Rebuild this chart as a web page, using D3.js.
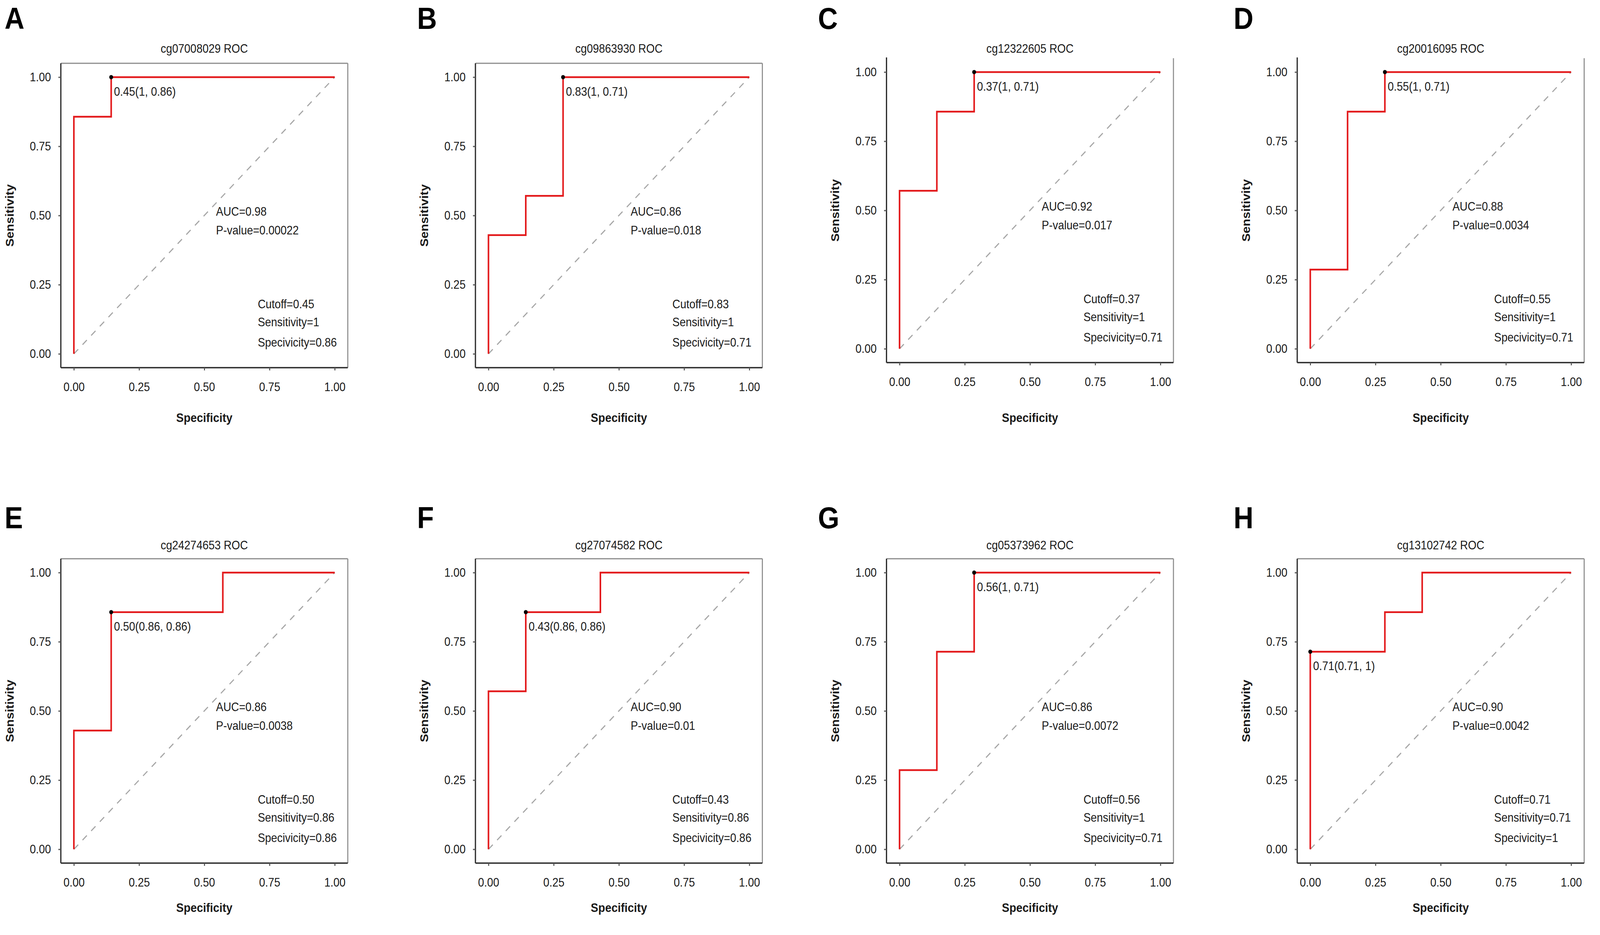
<!DOCTYPE html>
<html>
<head>
<meta charset="utf-8">
<script src="https://cdn.jsdelivr.net/npm/d3@7"></script>
<style>
  html, body { margin: 0; padding: 0; background: #fff; overflow: hidden; }
  svg { display: block; width: 100vw; height: 100vh; }
  text { font-family: 'Liberation Sans', Arial, Helvetica, sans-serif; fill: #1a1a1a; }
</style>
</head>
<body>
<svg id="chart"></svg>
<script>
const letters = ['A', 'B', 'C', 'D', 'E', 'F', 'G', 'H']
const probes = ['cg07008029', 'cg09863930', 'cg12322605', 'cg20016095',
  'cg24274653', 'cg27074582', 'cg05373962', 'cg13102742']

// ROC step curves (x = 1 - specificity on the axis labelled Specificity)
const rocX = [
  [0, 0, 0.143, 0.143, 1],
  [0, 0, 0.143, 0.143, 0.286, 0.286, 1],
  [0, 0, 0.143, 0.143, 0.286, 0.286, 1],
  [0, 0, 0.143, 0.143, 0.286, 0.286, 1],
  [0, 0, 0.143, 0.143, 0.571, 0.571, 1],
  [0, 0, 0.143, 0.143, 0.429, 0.429, 1],
  [0, 0, 0.143, 0.143, 0.286, 0.286, 1],
  [0, 0, 0.286, 0.286, 0.429, 0.429, 1]
]
const rocY = [
  [0, 0.857, 0.857, 1, 1],
  [0, 0.429, 0.429, 0.571, 0.571, 1, 1],
  [0, 0.571, 0.571, 0.857, 0.857, 1, 1],
  [0, 0.286, 0.286, 0.857, 0.857, 1, 1],
  [0, 0.429, 0.429, 0.857, 0.857, 1, 1],
  [0, 0.571, 0.571, 0.857, 0.857, 1, 1],
  [0, 0.286, 0.286, 0.714, 0.714, 1, 1],
  [0, 0.714, 0.714, 0.857, 0.857, 1, 1]
]

// best threshold point
const bestX = [0.143, 0.286, 0.286, 0.286, 0.143, 0.143, 0.286, 0]
const bestY = [1, 1, 1, 1, 0.857, 0.857, 1, 0.714]

const cutoffs = ['0.45', '0.83', '0.37', '0.55', '0.50', '0.43', '0.56', '0.71']
const sens = ['1', '1', '1', '1', '0.86', '0.86', '1', '0.71']
const spec = ['0.86', '0.71', '0.71', '0.71', '0.86', '0.86', '0.71', '1']
const aucs = ['0.98', '0.86', '0.92', '0.88', '0.86', '0.90', '0.86', '0.90']
const pvalues = ['0.00022', '0.018', '0.017', '0.0034', '0.0038', '0.01', '0.0072', '0.0042']

const ticks = [0, 0.25, 0.5, 0.75, 1]

// layout (drawn in reference pixels, stretched to the viewport)
const W = 4550
const H = 2393
const colLeft = [173, 1352, 2521, 3689]
const rowTop = [162, 1430]
const letterX = [13, 1186, 2326, 3508]
const letterY = [74, 1352]
const titleY = [124, 1395]
const xTitleY = [1068, 2322]
const boxW = 816
const boxH = 779
const fs = 31
const red = '#e31a1c'

const svg = d3.select('#chart')
  .attr('viewBox', `0 0 ${W} ${H}`)
  .attr('preserveAspectRatio', 'none')

svg.append('rect').attr('width', W).attr('height', H).attr('fill', '#fff')

const fmt = d3.format('.2f')

letters.forEach((letter, i) => {
  const col = i % 4
  const row = Math.floor(i / 4)
  // C and D in the top row sit a little higher and have no top frame
  const shift = (row === 0 && col >= 2) ? -13 : 0
  const left = colLeft[col]
  const top = rowTop[row] + shift
  const showTop = !(row === 0 && col >= 2)

  const x = d3.scaleLinear().domain([-0.05, 1.05]).range([left, left + boxW])
  const y = d3.scaleLinear().domain([-0.05, 1.05]).range([top + boxH, top])

  const g = svg.append('g').classed('panel', true)

  // panel letter
  svg.append('text')
    .attr('x', letterX[col])
    .attr('y', letterY[row])
    .style('font-size', '78px')
    .style('font-weight', 'bold')
    .style('fill', '#000')
    .text(letter)

  // title
  g.append('text')
    .attr('x', (x(0) + x(1)) / 2)
    .attr('y', titleY[row])
    .attr('text-anchor', 'middle')
    .attr('dy', '0.36em')
    .style('font-size', `${fs}px`)
    .text(`${probes[i]} ROC`)

  // frame
  const frame = g.append('g').attr('fill', 'none')
  frame.append('line')
    .attr('x1', left + boxW).attr('x2', left + boxW)
    .attr('y1', top).attr('y2', top + boxH)
    .attr('stroke', '#8c8c8c').attr('stroke-width', 3)
  if (showTop) {
    frame.append('line')
      .attr('x1', left).attr('x2', left + boxW)
      .attr('y1', top).attr('y2', top)
      .attr('stroke', '#8c8c8c').attr('stroke-width', 3)
  }

  // axes
  const xAxis = g.append('g')
    .attr('transform', `translate(0, ${top + boxH})`)
    .call(d3.axisBottom(x).tickValues(ticks).tickFormat(fmt).tickSize(7).tickPadding(31))
  const yAxis = g.append('g')
    .attr('transform', `translate(${left}, 0)`)
    .call(d3.axisLeft(y).tickValues(ticks).tickFormat(fmt).tickSize(7).tickPadding(21))
  ;[xAxis, yAxis].forEach(ax => {
    ax.select('.domain').remove()
    ax.selectAll('.tick line').attr('stroke', '#555').attr('stroke-width', 3)
    ax.selectAll('.tick text')
      .style('font-size', `${fs}px`)
      .style('font-family', "'Liberation Sans', Arial, sans-serif")
      .attr('fill', '#1a1a1a')
  })

  frame.append('line')
    .attr('x1', left).attr('x2', left)
    .attr('y1', showTop ? top : top - 2).attr('y2', top + boxH)
    .attr('stroke', '#2b2b2b').attr('stroke-width', 3.5)
  frame.append('line')
    .attr('x1', left).attr('x2', left + boxW)
    .attr('y1', top + boxH).attr('y2', top + boxH)
    .attr('stroke', '#2b2b2b').attr('stroke-width', 3.5)

  // axis titles
  g.append('text')
    .attr('x', (x(0) + x(1)) / 2)
    .attr('y', xTitleY[row])
    .attr('text-anchor', 'middle')
    .attr('dy', '0.36em')
    .style('font-size', '32px')
    .style('font-weight', 'bold')
    .text('Specificity')

  g.append('text')
    .attr('transform', `translate(${left - 146}, ${top + boxH / 2}) rotate(-90)`)
    .attr('text-anchor', 'middle')
    .attr('dy', '0.36em')
    .style('font-size', '32px')
    .style('font-weight', 'bold')
    .text('Sensitivity')

  // chance diagonal
  g.append('line')
    .attr('x1', x(0)).attr('y1', y(0))
    .attr('x2', x(1)).attr('y2', y(1))
    .attr('stroke', '#a6a6a6')
    .attr('stroke-width', 3)
    .attr('stroke-dasharray', '17,17')

  // ROC curve
  const pts = rocX[i].map((v, k) => [v, rocY[i][k]])
  const line = d3.line().x(d => x(d[0])).y(d => y(d[1]))
  g.append('path')
    .datum(pts)
    .attr('d', line)
    .attr('fill', 'none')
    .attr('stroke', red)
    .attr('stroke-width', 4.5)

  // best point + label
  g.append('circle')
    .attr('cx', x(bestX[i]))
    .attr('cy', y(bestY[i]))
    .attr('r', 5.5)
    .attr('fill', '#000')
  g.append('text')
    .attr('x', x(bestX[i]) + 8)
    .attr('y', y(bestY[i]) + 36)
    .attr('dy', '0.36em')
    .style('font-size', `${fs}px`)
    .text(`${cutoffs[i]}(${sens[i]}, ${spec[i]})`)

  // AUC / p-value
  g.append('text')
    .attr('x', x(0.545)).attr('y', y(0.515)).attr('dy', '0.36em')
    .style('font-size', `${fs}px`)
    .text(`AUC=${aucs[i]}`)
  g.append('text')
    .attr('x', x(0.545)).attr('y', y(0.447)).attr('dy', '0.36em')
    .style('font-size', `${fs}px`)
    .text(`P-value=${pvalues[i]}`)

  // cutoff block
  const block = [`Cutoff=${cutoffs[i]}`, `Sensitivity=${sens[i]}`, `Specivicity=${spec[i]}`]
  const blockY = [0.18, 0.115, 0.042]
  block.forEach((t, k) => {
    g.append('text')
      .attr('x', x(0.705)).attr('y', y(blockY[k])).attr('dy', '0.36em')
      .style('font-size', `${fs}px`)
      .text(t)
  })
})
</script>
</body>
</html>
